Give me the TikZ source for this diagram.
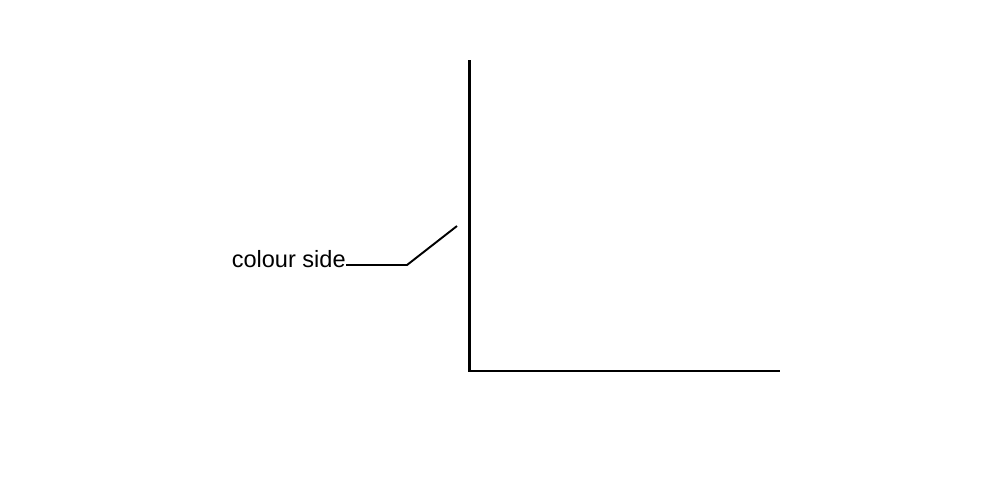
\documentclass[tikz,border=0pt]{standalone}
\usepackage{fontspec}
\setmainfont{Liberation Sans}
\begin{document}
\begin{tikzpicture}[x=0.02cm, y=-0.02cm]
        \useasboundingbox (0,0) rectangle (1000,485);
        % Ejes
        \coordinate (arriba) at (469.5,60);
        \coordinate (origen) at (469.5,371);
        \coordinate (derecha) at (780,371);
        \draw[line width=1.4pt] (arriba) -- (origen) -- (derecha);
        % Etiqueta y linea indicadora
        \node[anchor=base east, inner sep=0pt, font=\fontsize{13.4}{16}\selectfont] (lado) at (346,267) {colour side};
        \coordinate (codo) at (407,265);
        \coordinate (punta) at (457,226);
        \draw[line width=1.1pt] (lado.east |- codo) -- (codo) -- (punta);
    \end{tikzpicture}
\end{document}
